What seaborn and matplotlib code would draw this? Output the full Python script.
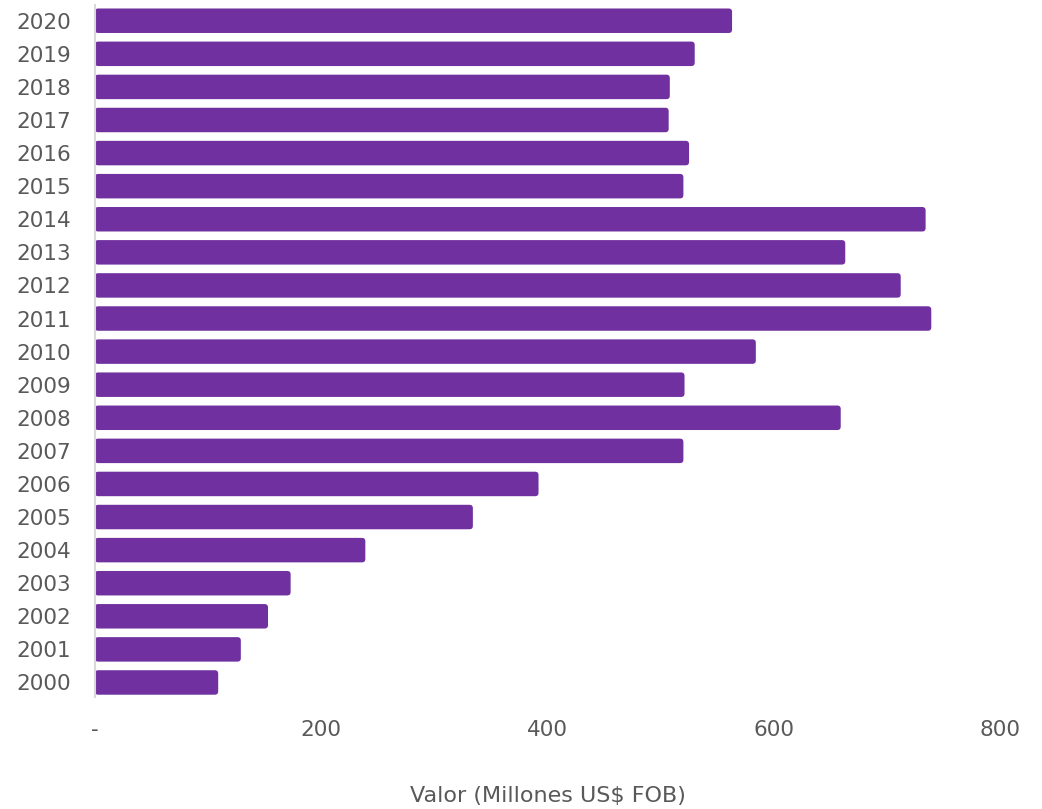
import matplotlib
matplotlib.use("Agg")
import matplotlib.pyplot as plt
import seaborn as sns
import pandas as pd
from matplotlib.patches import FancyBboxPatch

# valores (millones US$ FOB)
anios = [str(a) for a in range(2020, 1999, -1)]
valores = [563, 530, 508, 507, 525, 520, 734, 663, 712, 739, 584,
           521, 659, 520, 392, 334, 239, 173, 153, 129, 109]

df = pd.DataFrame({"Año": anios, "Valor": valores})

sns.set_style("white")
plt.rcParams['font.family'] = ['DejaVu Sans']
gris = "#595959"
morado = "#7030A0"

fig = plt.figure(figsize=(10.42, 8.09), dpi=100)
ax = fig.add_axes([0.091, 0.138, 0.869, 0.856])

sns.barplot(data=df, x="Valor", y="Año", color=morado, width=0.74,
            saturation=1, ax=ax, orient="h")

ax.set_xlim(0, 800)
ax.set_ylim(20.45, -0.48)

# bordes redondeados en las barras
px_x = 0.869 * 1042 / 800
px_y = 0.856 * 809 / 20.93
for p in list(ax.patches):
    x0, y0, w, h = p.get_x(), p.get_y(), p.get_width(), p.get_height()
    p.remove()
    ax.add_patch(FancyBboxPatch((x0, y0), w, h,
                                boxstyle="round,pad=0,rounding_size=3",
                                mutation_aspect=px_x / px_y,
                                facecolor=morado, edgecolor="none"))

ax.set_xticks([0, 200, 400, 600, 800])
ax.set_xticklabels(["-", "200", "400", "600", "800"])
ax.tick_params(axis="both", colors=gris, labelsize=15.5, length=0)
ax.tick_params(axis="x", pad=16)
ax.tick_params(axis="y", pad=17)

for s in ["top", "right", "bottom"]:
    ax.spines[s].set_visible(False)
ax.spines["left"].set_color("#d9d9d9")
ax.spines["left"].set_linewidth(1.5)

ax.set_ylabel("")
ax.set_xlabel("Valor (Millones US$ FOB)", color=gris, fontsize=16)
ax.xaxis.set_label_coords(0.5, -0.142)
ax.xaxis.label.set_va("center")

fig.savefig("out.png", dpi=100)
